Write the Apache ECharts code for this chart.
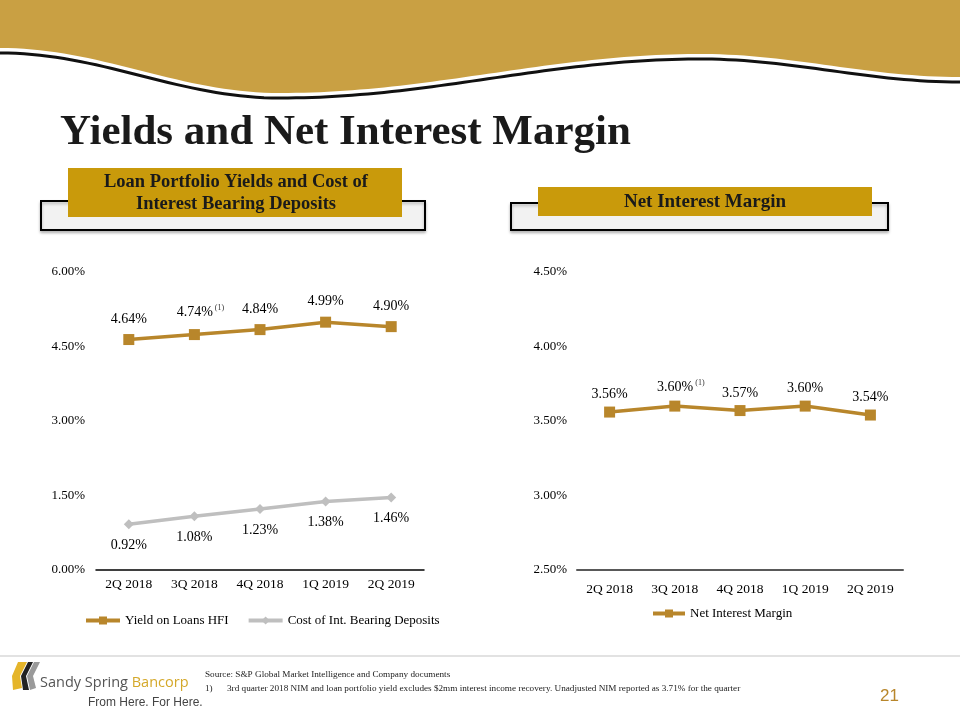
<!DOCTYPE html>
<html><head><meta charset="utf-8">
<script src="https://cdn.jsdelivr.net/npm/echarts@6/dist/echarts.min.js"></script>
<style>html,body{margin:0;padding:0;background:#fff}#c{width:960px;height:720px}</style>
</head><body><div id="c"></div>
<script>
const categories = ['2Q 2018','3Q 2018','4Q 2018','1Q 2019','2Q 2019'];
const yieldLoans = [4.64, 4.74, 4.84, 4.99, 4.90];
const costDeposits = [0.92, 1.08, 1.23, 1.38, 1.46];
const nim = [3.56, 3.60, 3.57, 3.60, 3.54];
const footnoteIdx = 1; // 3Q 2018 carries footnote (1)
const leftTicks = {min:0, max:6, interval:1.5};
const rightTicks = {min:2.5, max:4.5, interval:0.5};

const GOLD = '#B8862B', GRAY = '#BFBFBF', SERIF = '"Liberation Serif", "DejaVu Serif", serif';
const SANS = '"Open Sans", "Liberation Sans", Arial, sans-serif';
const chart = echarts.init(document.getElementById('c'), null, {renderer:'canvas'});

// header wave
const knots = [[0,48],[280,93],[700,54],[960,77]];
function waveY(x){
  for(let i=0;i<knots.length-1;i++){
    const a=knots[i], b=knots[i+1];
    if(x>=a[0] && x<=b[0]){const t=(x-a[0])/(b[0]-a[0]);return a[1]+(b[1]-a[1])*(1-Math.cos(Math.PI*t))/2;}
  }
  return knots[knots.length-1][1];
}
const wave=[], waveLine=[];
for(let x=0;x<=960;x+=8){wave.push([x,waveY(x)]);waveLine.push([x,waveY(x)+5]);}
const goldPoly=[[0,0]].concat(wave).concat([[960,0]]);

function lbl(pos, dist){
  return {show:true, position:pos, distance:dist, color:'#000', fontFamily:SERIF, fontSize:14,
    formatter:p=>p.dataIndex===footnoteIdx && pos==='top' ? '{v|'+p.value.toFixed(2)+'%}{s|(1)}' : '{v|'+p.value.toFixed(2)+'%}',
    rich:{v:{fontFamily:SERIF,fontSize:14,color:'#000'}, s:{fontFamily:SERIF,fontSize:8,color:'#333',verticalAlign:'bottom',padding:[0,0,9,2]}}};
}
function withFoot(arr, hasFoot){
  return arr.map((v,i)=> (hasFoot && i===footnoteIdx) ? {value:v, label:{offset:[6,0]}} : v);
}
const fmtPct = v=>v.toFixed(2)+'%';

chart.setOption({
  animation:false,
  graphic:[
    {type:'polygon', shape:{points:goldPoly}, style:{fill:'#C9A043'}, silent:true},
    {type:'polyline', shape:{points:waveLine}, style:{stroke:'#111', lineWidth:3, fill:null}, silent:true},
    {type:'text', left:60, top:111, style:{text:'Yields and Net Interest Margin', font:'bold 43px '+SERIF, fill:'#1a1a1a', shadowColor:'rgba(0,0,0,0.45)', shadowOffsetX:2, shadowOffsetY:2, shadowBlur:2}},
    // left panel
    {type:'rect', shape:{x:41,y:201,width:384,height:29}, style:{fill:'#F2F2F2', stroke:'#000', lineWidth:2, shadowColor:'rgba(0,0,0,0.25)', shadowOffsetY:2, shadowBlur:3}},
    {type:'rect', shape:{x:68,y:168,width:334,height:49}, style:{fill:'#C99A0B'}},
    {type:'text', x:236, y:193, style:{text:'Loan Portfolio Yields and Cost of\nInterest Bearing Deposits', font:'bold 18.5px '+SERIF, fill:'#1a1a1a', align:'center', verticalAlign:'middle', lineHeight:22}},
    // right panel
    {type:'rect', shape:{x:511,y:203,width:377,height:27}, style:{fill:'#F2F2F2', stroke:'#000', lineWidth:2, shadowColor:'rgba(0,0,0,0.25)', shadowOffsetY:2, shadowBlur:3}},
    {type:'rect', shape:{x:538,y:187,width:334,height:29}, style:{fill:'#C99A0B'}},
    {type:'text', x:705, y:202, style:{text:'Net Interest Margin', font:'bold 19px '+SERIF, fill:'#1a1a1a', align:'center', verticalAlign:'middle'}},
    // footer
    {type:'line', shape:{x1:0,y1:656,x2:960,y2:656}, style:{stroke:'#D9D9D9', lineWidth:1.5}},
    {type:'polygon', shape:{points:[[18,662],[27,662],[20,676],[22,688],[13,690],[12,676]]}, style:{fill:'#E5B52A'}},
    {type:'polygon', shape:{points:[[28,662],[33,662],[26,676],[29,690],[23,690],[21,676]]}, style:{fill:'#222'}},
    {type:'polygon', shape:{points:[[34,662],[40,662],[33,676],[36,688],[30,690],[27,676]]}, style:{fill:'#9A9A9A'}},
    {type:'text', left:40, top:675, style:{text:'{a|Sandy Spring }{b|Bancorp}', rich:{a:{font:'14.5px '+SANS, fill:'#555'}, b:{font:'14.5px '+SANS, fill:'#D4A82A'}}}},
    {type:'text', left:88, top:697, style:{text:'From Here. For Here.', font:'12px "Liberation Sans", Arial, sans-serif', fill:'#444'}},
    {type:'text', left:205, top:670, style:{text:'Source: S&P Global Market Intelligence and Company documents', font:'9.2px '+SERIF, fill:'#222'}},
    {type:'text', left:205, top:684, style:{text:'1)', font:'9.2px '+SERIF, fill:'#222'}},
    {type:'text', left:227, top:684, style:{text:'3rd quarter 2018 NIM and loan portfolio yield excludes $2mm interest income recovery. Unadjusted NIM reported as 3.71% for the quarter', font:'9.2px '+SERIF, fill:'#222'}},
    {type:'text', left:880, top:688, style:{text:'21', font:'17px "Liberation Sans", Arial, sans-serif', fill:'#B8862B'}}
  ],
  legend:[
    {data:['Yield on Loans HFI','Cost of Int. Bearing Deposits'], left:84, top:614, padding:0, itemWidth:34, itemHeight:10, itemGap:18,
     lineStyle:{width:4}, textStyle:{fontFamily:SERIF, fontSize:13, color:'#000'}},
    {data:['Net Interest Margin'], left:651, top:607, padding:0, itemWidth:32, itemHeight:10,
     lineStyle:{width:4}, textStyle:{fontFamily:SERIF, fontSize:13, color:'#000'}}
  ],
  grid:[
    {left:96, top:272, width:328, height:298},
    {left:577, top:272, width:326, height:298}
  ],
  xAxis:[
    {gridIndex:0, type:'category', data:categories, axisLine:{lineStyle:{color:'#000', width:1.5}}, axisTick:{show:false},
     axisLabel:{color:'#000', fontFamily:SERIF, fontSize:13.5, margin:7}},
    {gridIndex:1, type:'category', data:categories, axisLine:{lineStyle:{color:'#595959', width:2}}, axisTick:{show:false},
     axisLabel:{color:'#000', fontFamily:SERIF, fontSize:13.5, margin:12}}
  ],
  yAxis:[
    {gridIndex:0, type:'value', min:leftTicks.min, max:leftTicks.max, interval:leftTicks.interval, splitLine:{show:false}, axisLine:{show:false}, axisTick:{show:false},
     axisLabel:{formatter:fmtPct, color:'#000', fontFamily:SERIF, fontSize:13, margin:11}},
    {gridIndex:1, type:'value', min:rightTicks.min, max:rightTicks.max, interval:rightTicks.interval, splitLine:{show:false}, axisLine:{show:false}, axisTick:{show:false},
     axisLabel:{formatter:fmtPct, color:'#000', fontFamily:SERIF, fontSize:13, margin:10}}
  ],
  series:[
    {name:'Yield on Loans HFI', type:'line', xAxisIndex:0, yAxisIndex:0, data:withFoot(yieldLoans,true),
     symbol:'rect', symbolSize:11, lineStyle:{color:GOLD, width:3.5}, itemStyle:{color:GOLD}, label:lbl('top',8)},
    {name:'Cost of Int. Bearing Deposits', type:'line', xAxisIndex:0, yAxisIndex:0, data:costDeposits,
     symbol:'diamond', symbolSize:10, lineStyle:{color:GRAY, width:3.5}, itemStyle:{color:GRAY}, label:lbl('bottom',9)},
    {name:'Net Interest Margin', type:'line', xAxisIndex:1, yAxisIndex:1, data:withFoot(nim,true),
     symbol:'rect', symbolSize:11, lineStyle:{color:GOLD, width:3.5}, itemStyle:{color:GOLD}, label:lbl('top',5)}
  ]
});
</script></body></html>
